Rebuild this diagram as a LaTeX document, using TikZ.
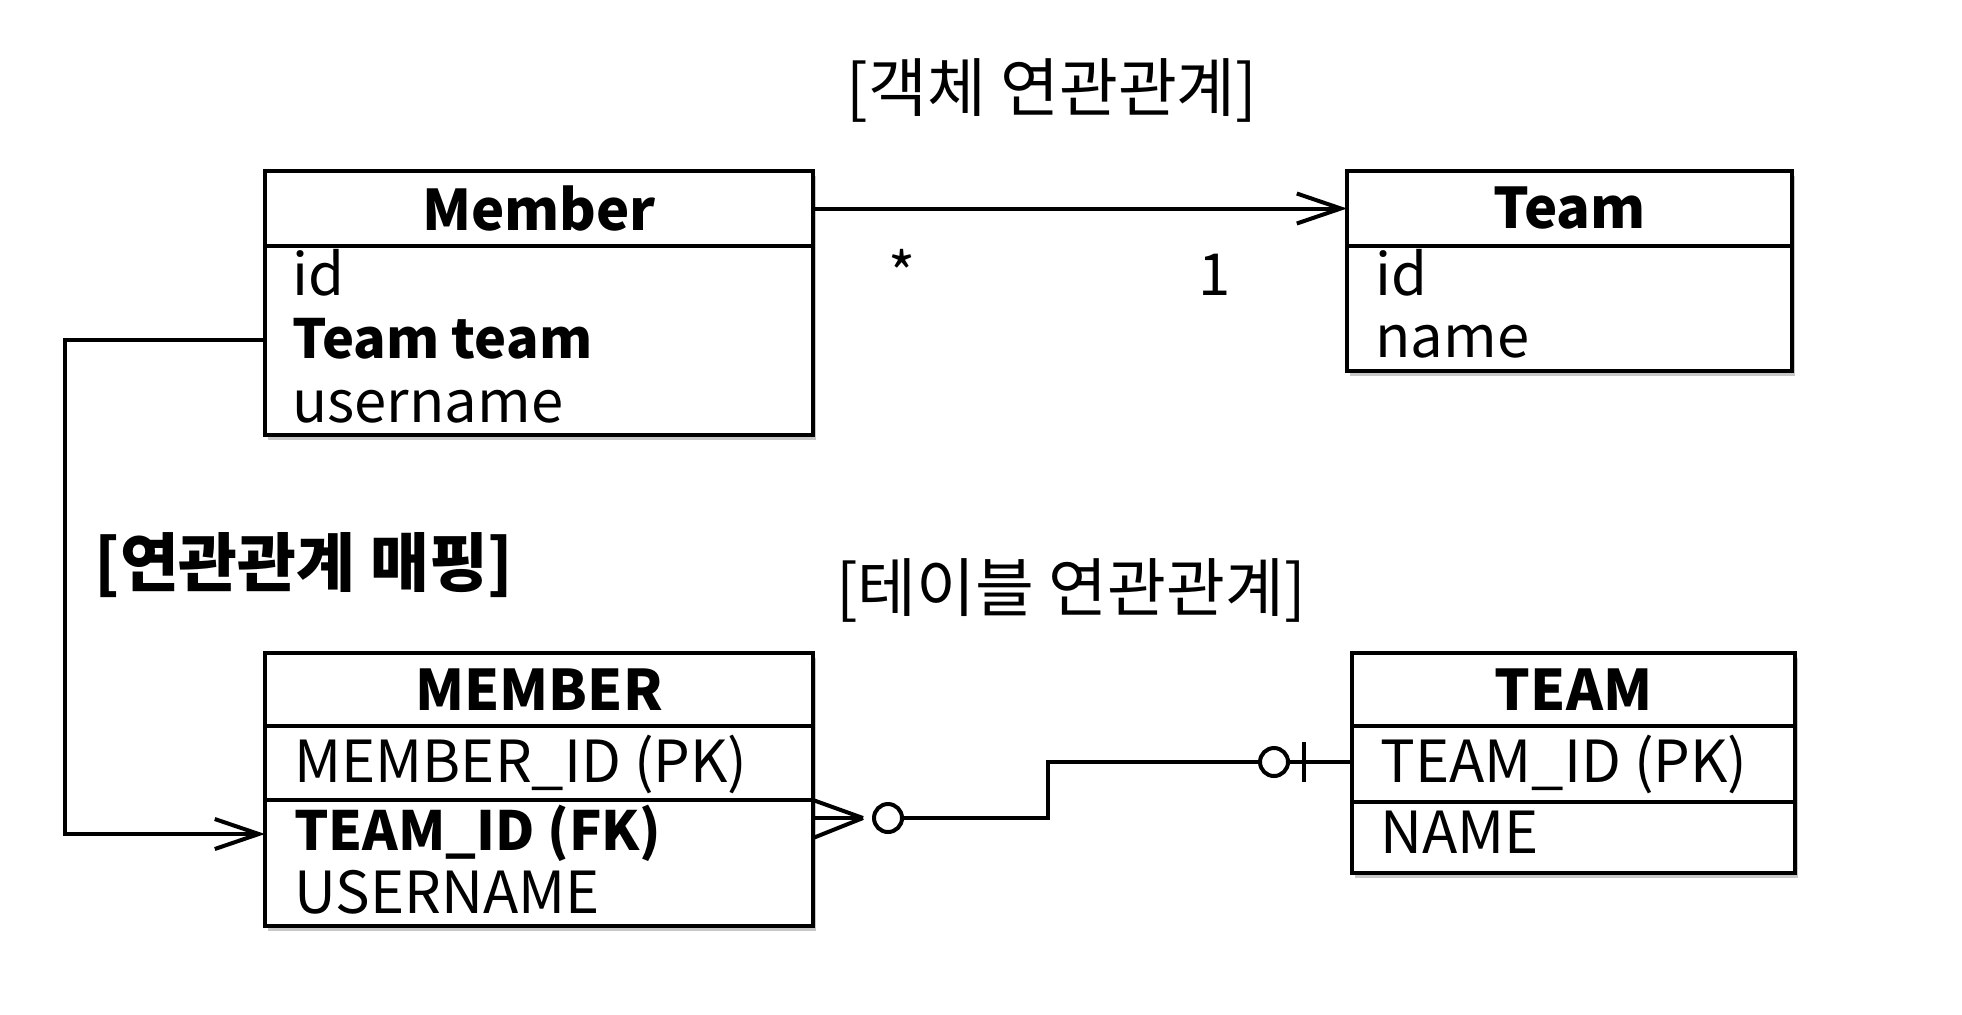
\documentclass[tikz,border=0pt]{standalone}
\usepackage{fontspec}
\setmainfont{Noto Sans CJK KR}
\usetikzlibrary{arrows.meta,shadows,calc}
\begin{document}
\begin{tikzpicture}[x=0.5pt,y=-0.5pt,
  box/.style={draw, line width=2.4pt, fill=white, inner sep=0pt, outer sep=0pt, anchor=north west,
    drop shadow={shadow xshift=1.5pt, shadow yshift=-2.5pt, opacity=0.22, fill=black}},
  hdr/.style={font=\fontsize{28pt}{34pt}\selectfont\bfseries},
  row/.style={font=\fontsize{29pt}{34pt}\selectfont, inner sep=0pt, anchor=base west},
  rowb/.style={row, font=\fontsize{27pt}{34pt}\selectfont\bfseries},
  title/.style={font=\fontsize{32pt}{38pt}\selectfont, inner sep=0pt},
  conn/.style={draw, line width=2pt, line join=miter},
  tip/.style={-{Straight Barb[length=22pt,width=15pt,line width=2pt]}},
  circ/.style={circle, draw, line width=2pt, fill=white, minimum size=14pt, inner sep=0pt}
]
\useasboundingbox (0,0) rectangle (1962,1014);

% titles
\node[title] (t1) at (1052,90) {[객체 연관관계]};
\node[title, font=\fontsize{32pt}{38pt}\selectfont\bfseries] (t2) at (304,565) {[연관관계 매핑]};
\node[title] (t3) at (1071,590) {[테이블 연관관계]};

% object Member
\node[box, hdr, minimum width=274pt, minimum height=37.5pt] (mhead) at (265,171) {Member};
\node[box, minimum width=274pt, minimum height=94.5pt] (mbody) at (265,246) {};
\node[row] (mid) at (292,295) {id};
\node[rowb] (mteam) at (292,358) {Team team};
\node[row] (muser) at (292,422) {username};

% object Team
\node[box, hdr, minimum width=222.5pt, minimum height=37.5pt] (thead) at (1347,171) {Team};
\node[box, minimum width=222.5pt, minimum height=62.5pt] (tbody) at (1347,246) {};
\node[row] (tid) at (1375,295) {id};
\node[row] (tname) at (1375,357) {name};

% multiplicities
\node[row, anchor=base] (mstar) at (902,295) {*};
\node[row, anchor=base] (mone) at (1215,295) {1};

% table MEMBER
\node[box, hdr, minimum width=274pt, minimum height=36.5pt] (Mhead) at (265,653) {MEMBER};
\node[box, minimum width=274pt, minimum height=37pt] (Mpk) at (265,726) {};
\node[box, minimum width=274pt, minimum height=63pt] (Mrest) at (265,800) {};
\node[row] (Mid) at (294,782) {MEMBER\_ID (PK)};
\node[rowb] (Mfk) at (294,850) {TEAM\_ID (FK)};
\node[row] (Muser) at (294,913) {USERNAME};

% table TEAM
\node[box, hdr, minimum width=221.5pt, minimum height=36.5pt] (Thead) at (1352,653) {TEAM};
\node[box, minimum width=221.5pt, minimum height=38pt] (Tpk) at (1352,726) {};
\node[box, minimum width=221.5pt, minimum height=35.5pt] (Trest) at (1352,802) {};
\node[row] (Tid) at (1380,782) {TEAM\_ID (PK)};
\node[row] (Tname) at (1380,853) {NAME};

% object association
\draw[conn, tip] (mhead.east) -- (thead.west);

% mapping connector
\coordinate (lc) at (65,0);
\coordinate (ly1) at (0,340);
\coordinate (ly2) at (0,834);
\draw[conn, tip] (mbody.west |- ly1) -- (lc |- ly1) -- (lc |- ly2) -- (Mrest.west |- ly2);

% ER connector
\coordinate (cfa) at (863,818);
\draw[conn] (Mrest.north east) -- (cfa);
\draw[conn] (Mrest.east |- cfa) -- (cfa);
\draw[conn] ($(Mrest.east |- cfa)+(0,20)$) -- (cfa);
\node[circ] (c1) at (888,818) {};
\node[circ] (c2) at (1274,762) {};
\coordinate (bend) at (1048,818);
\draw[conn] (c1.east) -- (bend) |- (c2.west);
\draw[conn] (c2.east) -- (Tpk.west |- c2);
\draw[conn] (1304,742) -- (1304,782);
\end{tikzpicture}
\end{document}
